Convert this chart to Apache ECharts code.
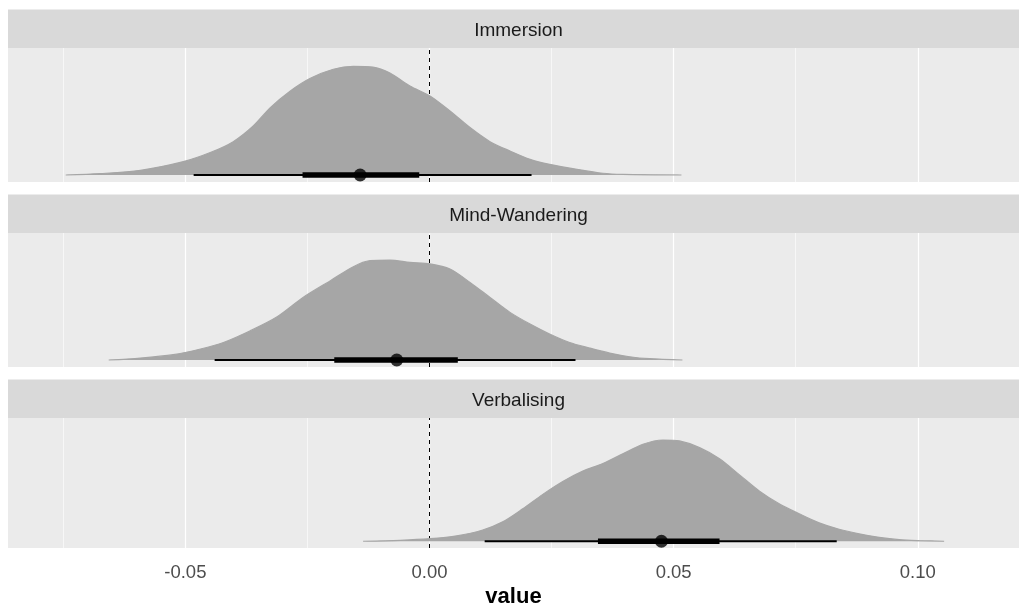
<!DOCTYPE html>
<html>
<head>
<meta charset="utf-8">
<script src="https://cdn.jsdelivr.net/npm/echarts@6/dist/echarts.min.js"></script>
<style>
html,body{margin:0;padding:0;background:#fff;}
#chart{width:1019px;height:609px;}
</style>
</head>
<body>
<div id="chart"></div>
<script>
// ---- data ----
const panels = ['Immersion', 'Mind-Wandering', 'Verbalising'];

const immersionX = [-0.0745,-0.0674,-0.0592,-0.0504,-0.0449,-0.0402,-0.0361,-0.0326,-0.0285,-0.0244,-0.0197,-0.0156,-0.0116,-0.0081,-0.0040,0.0001,0.0042,0.0083,0.0124,0.0165,0.0206,0.0246,0.0302,0.0355,0.0396,0.0516];
const immersionD = [0,0.013,0.043,0.123,0.206,0.306,0.450,0.618,0.771,0.887,0.970,0.997,0.990,0.936,0.817,0.725,0.587,0.435,0.306,0.220,0.144,0.098,0.052,0.016,0.006,0];

const mindX = [-0.0657,-0.0592,-0.0525,-0.0469,-0.0422,-0.0367,-0.0312,-0.0259,-0.0203,-0.0156,-0.0122,-0.0081,-0.0040,0.0001,0.0042,0.0083,0.0124,0.0165,0.0206,0.0246,0.0287,0.0328,0.0369,0.0410,0.0451,0.0518];
const mindD = [0,0.018,0.049,0.101,0.161,0.269,0.397,0.574,0.728,0.856,0.911,0.917,0.895,0.881,0.835,0.712,0.574,0.437,0.330,0.239,0.161,0.110,0.064,0.030,0.012,0];

const verbX = [-0.0136,-0.0060,0.0001,0.0056,0.0109,0.0150,0.0191,0.0232,0.0273,0.0314,0.0355,0.0396,0.0437,0.0478,0.0512,0.0553,0.0594,0.0635,0.0676,0.0717,0.0757,0.0798,0.0839,0.0880,0.0921,0.0962,0.1003,0.1054];
const verbD = [0,0.009,0.024,0.051,0.106,0.183,0.306,0.443,0.565,0.663,0.734,0.826,0.917,0.957,0.948,0.886,0.780,0.627,0.473,0.351,0.260,0.174,0.113,0.070,0.037,0.015,0.006,0];

const pointEst = [-0.0142, -0.0067, 0.0475];
const innerLo  = [-0.0260, -0.0195, 0.0345];
const innerHi  = [-0.0021,  0.0058, 0.0594];
const outerLo  = [-0.0483, -0.0440, 0.0113];
const outerHi  = [ 0.0209,  0.0299, 0.0834];

const xTicks = [-0.05, 0.00, 0.05, 0.10];
const xMinor = [-0.075, -0.025, 0.025, 0.075];
const refLine = 0;

// ---- layout ----
const densX = [immersionX, mindX, verbX];
const densD = [immersionD, mindD, verbD];
const FONT = "'Liberation Sans', Arial, sans-serif";
const gridTop = [48, 233, 418];
const gridH = 134;
const stripH = 38.5;
const xMin = -0.08632, xMax = 0.12073;

const grids = [], xAxes = [], yAxes = [], series = [], graphic = [];
panels.forEach((name, i) => {
  grids.push({left: 8, top: gridTop[i], right: 0, height: gridH, show: true,
    backgroundColor: '#EBEBEB', borderWidth: 0, containLabel: false});
  const last = i === panels.length - 1;
  xAxes.push({type: 'value', gridIndex: i, min: xMin, max: xMax,
    axisLine: {show: false},
    splitLine: {show: false},
    axisTick: {show: last, customValues: xTicks, length: 4, lineStyle: {color: '#333', width: 1}},
    axisLabel: {show: last, customValues: xTicks, margin: 15, color: '#4D4D4D',
      fontSize: 18.5, fontFamily: FONT, formatter: v => v.toFixed(2)},
    name: last ? 'value' : '', nameLocation: 'middle', nameGap: 38,
    nameTextStyle: {color: '#000', fontSize: 22, fontWeight: 'bold', fontFamily: FONT}
  });
  yAxes.push({type: 'value', gridIndex: i, min: -0.064, max: 1.165, show: false});

  // gridlines (under everything)
  series.push({type: 'line', xAxisIndex: i, yAxisIndex: i, data: [], silent: true,
    markLine: {silent: true, symbol: 'none', z: 1, animation: false, precision: 6,
      label: {show: false},
      data: xMinor.map(v => ({xAxis: v, lineStyle: {color: '#fff', width: 0.6, type: 'solid'}}))
        .concat(xTicks.map(v => ({xAxis: v, lineStyle: {color: '#fff', width: 1.2, type: 'solid'}})))
    }});
  // reference dashed line
  series.push({type: 'line', xAxisIndex: i, yAxisIndex: i, data: [], silent: true,
    markLine: {silent: true, symbol: 'none', z: 1.5, animation: false, precision: 6,
      label: {show: false},
      data: [{xAxis: refLine}],
      lineStyle: {color: '#000', width: 1, type: [4, 4]}
    }});
  // density slab
  series.push({type: 'line', xAxisIndex: i, yAxisIndex: i, z: 2,
    data: densX[i].map((x, k) => [x, densD[i][k]]),
    smooth: 0.3, showSymbol: false, silent: true,
    lineStyle: {color: '#A6A6A6', width: 1.2},
    areaStyle: {color: '#A6A6A6', opacity: 1}
  });
  // outer interval
  series.push({type: 'line', xAxisIndex: i, yAxisIndex: i, z: 3,
    data: [[outerLo[i], 0], [outerHi[i], 0]], showSymbol: false, silent: true,
    lineStyle: {color: '#000', width: 2}});
  // inner interval
  series.push({type: 'line', xAxisIndex: i, yAxisIndex: i, z: 4,
    data: [[innerLo[i], 0], [innerHi[i], 0]], showSymbol: false, silent: true,
    lineStyle: {color: '#000', width: 5.5}});
  // point
  series.push({type: 'scatter', xAxisIndex: i, yAxisIndex: i, z: 5,
    data: [[pointEst[i], 0]], symbolSize: 13, silent: true,
    itemStyle: {color: '#000'}});

  // strip
  graphic.push({type: 'rect', left: 8, top: gridTop[i] - stripH,
    shape: {width: 1011, height: stripH}, style: {fill: '#D9D9D9'}, silent: true});
  graphic.push({type: 'text', x: 518.5, y: gridTop[i] - stripH / 2 + 2.5,
    style: {text: name, fill: '#1A1A1A', fontSize: 19, fontFamily: FONT,
      align: 'center', verticalAlign: 'middle'}, silent: true});
});

const chart = echarts.init(document.getElementById('chart'), null, {renderer: 'canvas'});
chart.setOption({
  backgroundColor: '#fff',
  animation: false,
  grid: grids, xAxis: xAxes, yAxis: yAxes, series: series, graphic: graphic
});
</script>
</body>
</html>
